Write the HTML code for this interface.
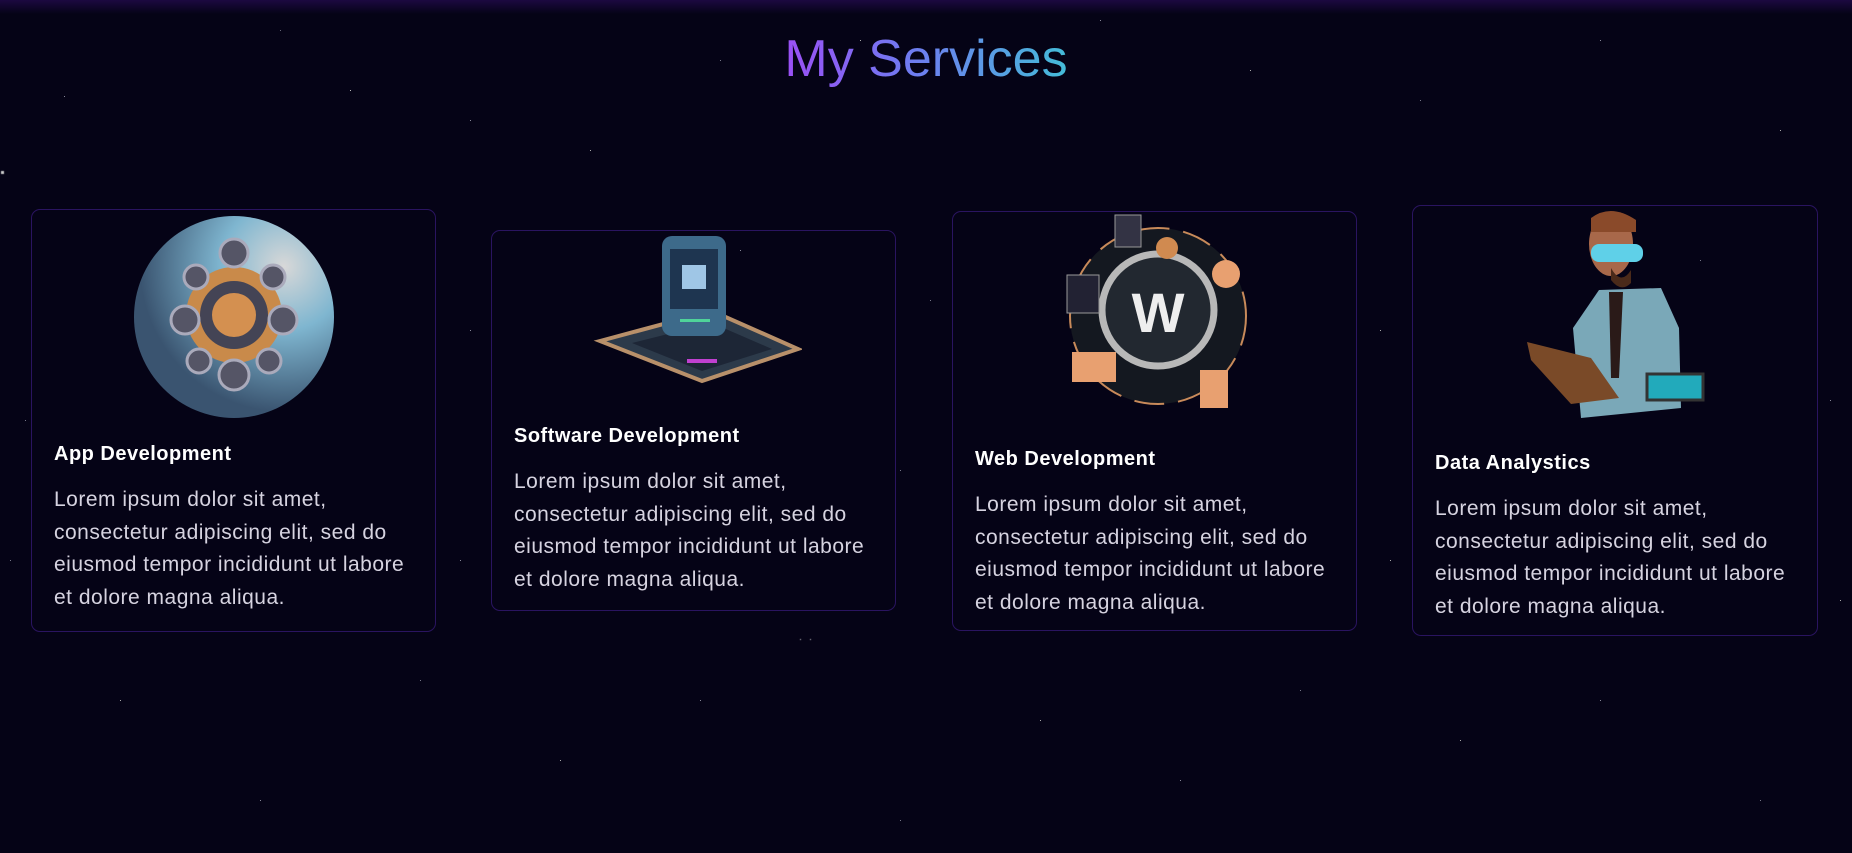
<!DOCTYPE html>
<html><head><meta charset="utf-8"><style>
html,body{margin:0;padding:0}
body{width:1852px;height:853px;overflow:hidden;background:#050316;position:relative;font-family:"Liberation Sans",sans-serif}
.top{position:absolute;left:0;top:0;width:1852px;height:14px;background:linear-gradient(#1c0940,#050316)}
.stars{position:absolute;left:0;top:0;width:1px;height:1px;background:transparent;box-shadow:
2px 172px 1px 1px #ccc,64px 96px #889,190px 240px #778,350px 90px #bbb,280px 30px #667,470px 120px #889,590px 150px #aaa,720px 60px #778,
860px 40px #aaa,1100px 20px #889,1250px 70px #aaa,1420px 100px #778,1600px 40px #889,1780px 130px #aaa,1700px 260px #778,1830px 400px #889,
10px 560px #778,120px 700px #aaa,260px 800px #889,420px 680px #778,560px 760px #aaa,700px 700px #889,800px 639px 1px #ccc,810px 639px 1px #ccc,
900px 820px #778,1040px 720px #aaa,1180px 780px #889,1300px 690px #778,1460px 740px #aaa,1600px 700px #889,1760px 800px #778,1840px 600px #aaa,
470px 330px #889,930px 300px #778,1380px 330px #aaa,900px 470px #778,460px 560px #889,1390px 560px #aaa,25px 420px #778,740px 250px #889;}
h1{position:absolute;left:0;width:1852px;top:24px;margin:0;text-align:center;font-size:52px;font-weight:normal;line-height:70px}
h1 span{background:linear-gradient(90deg,#9b4ff5,#6f7cf0 45%,#44bcd8);-webkit-background-clip:text;background-clip:text;color:transparent}
.card{position:absolute;border:1px solid #2a1460;border-radius:9px;box-sizing:border-box}
.card h3{position:absolute;left:22px;margin:0;color:#fff;font-size:20px;font-weight:bold;line-height:24px;letter-spacing:0.5px}
.card p{position:absolute;left:22px;margin:0;color:#d6d3e0;font-size:21px;line-height:32.5px;white-space:nowrap;letter-spacing:0.5px}
</style></head><body>
<div class="top"></div>
<div class="stars"></div>
<h1><span>My Services</span></h1>

<div class="card" style="left:31px;top:209px;width:405px;height:423px">
<svg style="position:absolute;left:101px;top:5px" width="202" height="204">
<defs><radialGradient id="g1" cx="0.75" cy="0.25" r="0.9"><stop offset="0" stop-color="#d8d8d8"/><stop offset="0.35" stop-color="#7fb6d0"/><stop offset="0.8" stop-color="#3a5470"/></radialGradient></defs>
<ellipse cx="101" cy="102" rx="100" ry="101" fill="url(#g1)"/>
<circle cx="101" cy="100" r="48" fill="#c98a4a"/><circle cx="101" cy="100" r="34" fill="#445"/><circle cx="101" cy="100" r="22" fill="#d49050"/>
<g fill="#556" stroke="#aab" stroke-width="3"><circle cx="52" cy="105" r="14"/><circle cx="150" cy="105" r="14"/><circle cx="101" cy="160" r="15"/><circle cx="101" cy="38" r="14"/><circle cx="63" cy="62" r="12"/><circle cx="140" cy="62" r="12"/><circle cx="66" cy="146" r="12"/><circle cx="136" cy="146" r="12"/></g>
</svg>
<h3 style="top:232px">App Development</h3>
<p style="top:274px">Lorem ipsum dolor sit amet,<br>consectetur adipiscing elit, sed do<br>eiusmod tempor incididunt ut labore<br>et dolore magna aliqua.</p>
</div>

<div class="card" style="left:491px;top:230px;width:405px;height:381px">
<svg style="position:absolute;left:100px;top:0px" width="210" height="162">
<polygon points="8,110 120,80 206,118 110,150" fill="#2c3a4a" stroke="#b8906a" stroke-width="4"/>
<polygon points="40,112 120,92 180,118 110,140" fill="#1d2636"/>
<rect x="70" y="5" width="64" height="100" rx="10" fill="#3d6a8a"/><rect x="78" y="18" width="48" height="60" fill="#1e3550"/>
<rect x="90" y="34" width="24" height="24" fill="#9fc6e6"/><rect x="88" y="88" width="30" height="3" fill="#4fd39a"/><rect x="95" y="128" width="30" height="4" fill="#c040d0"/>
</svg>
<h3 style="top:193px">Software Development</h3>
<p style="top:235px">Lorem ipsum dolor sit amet,<br>consectetur adipiscing elit, sed do<br>eiusmod tempor incididunt ut labore<br>et dolore magna aliqua.</p>
</div>

<div class="card" style="left:952px;top:211px;width:405px;height:420px">
<svg style="position:absolute;left:102px;top:0px" width="204" height="204">
<circle cx="103" cy="104" r="88" fill="#141820" stroke="#c88a5a" stroke-width="2" stroke-dasharray="30 14"/>
<circle cx="103" cy="98" r="56" fill="#222830" stroke="#b8b8b8" stroke-width="7"/>
<text x="103" y="120" text-anchor="middle" font-family="Liberation Sans" font-weight="bold" font-size="56" fill="#eee">W</text>
<rect x="17" y="140" width="44" height="30" fill="#e8a070"/><rect x="145" y="158" width="28" height="38" fill="#e8a070"/>
<rect x="60" y="3" width="26" height="32" fill="#334" stroke="#999"/><rect x="12" y="63" width="32" height="38" fill="#223" stroke="#999"/>
<circle cx="171" cy="62" r="14" fill="#e8a070"/><circle cx="112" cy="36" r="11" fill="#d08a50"/>
</svg>
<h3 style="top:235px">Web Development</h3>
<p style="top:277px">Lorem ipsum dolor sit amet,<br>consectetur adipiscing elit, sed do<br>eiusmod tempor incididunt ut labore<br>et dolore magna aliqua.</p>
</div>

<div class="card" style="left:1412px;top:205px;width:406px;height:431px">
<svg style="position:absolute;left:98px;top:2px" width="200" height="218">
<path d="M88 82 L150 80 L168 120 L170 200 L70 210 L62 120 Z" fill="#7aa8b8"/>
<path d="M98 84 L112 84 L108 170 L100 170 Z" fill="#2a1a18"/>
<ellipse cx="100" cy="36" rx="22" ry="32" fill="#a8684a"/>
<path d="M80 10 Q100 -5 125 12 L125 24 L80 24 Z" fill="#8a4a2a"/>
<rect x="80" y="36" width="52" height="18" rx="8" fill="#5fd0e8"/>
<path d="M100 60 Q110 78 120 62 L120 75 Q110 85 100 72 Z" fill="#4a2a1a"/>
<polygon points="16,134 80,150 108,190 60,196 20,152" fill="#7a4a28"/>
<rect x="136" y="166" width="56" height="26" fill="#2ab" stroke="#333" stroke-width="3"/>
</svg>
<h3 style="top:245px">Data Analystics</h3>
<p style="top:287px">Lorem ipsum dolor sit amet,<br>consectetur adipiscing elit, sed do<br>eiusmod tempor incididunt ut labore<br>et dolore magna aliqua.</p>
</div>
</body></html>
